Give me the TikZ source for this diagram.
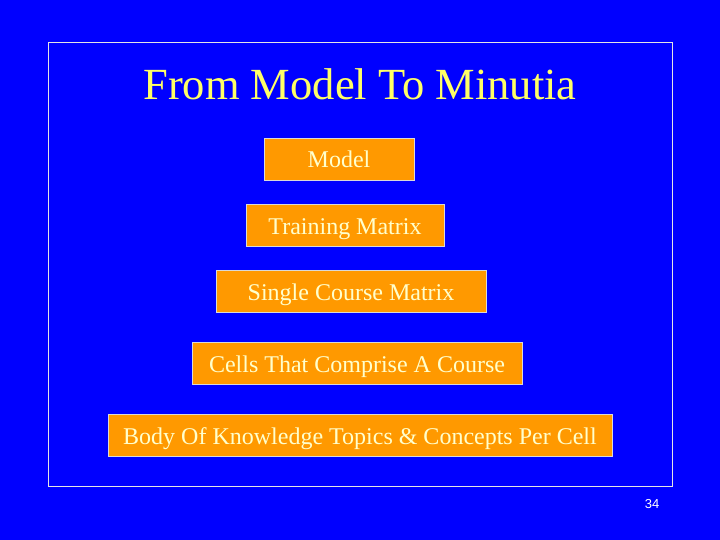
\documentclass[tikz,border=0pt]{standalone}
\usepackage{fontspec}
\setmainfont{Liberation Serif}
\newfontfamily\pagefont{Liberation Sans}
\usetikzlibrary{positioning}
\definecolor{slideblue}{HTML}{0000FF}
\definecolor{boxorange}{HTML}{FF9900}
\definecolor{boxtext}{HTML}{FFFFCC}
\definecolor{titleyellow}{HTML}{FFFF66}
\tikzset{level/.style={draw=white!85!black,line width=0.8pt,fill=boxorange,text=boxtext,font=\fontsize{24}{26}\selectfont,minimum height=42pt,inner sep=0pt,text height=18pt,text depth=0pt}}

\begin{document}
\begin{tikzpicture}
[x=1pt,y=-1pt]
\fill[slideblue] (0,0) rectangle (720,540);
\useasboundingbox (0,0) rectangle (720,540);
\draw[white!90!black,line width=0.8pt] (48,42) rectangle (672,486);
\node (title) at (360,84)[text=titleyellow,font=\fontsize{44.5}{48}\selectfont]{From Model To Minutia};

\node (model) at (339,159)[level,minimum width=150pt]{Model};
\node (training) at (345,225)[level,minimum width=198pt]{Training Matrix};
\node (single) at (351,291)[level,minimum width=270pt]{Single Course Matrix};
\node (cells) at (357,363)[level,minimum width=330pt]{Cells That Comprise A Course};
\node (body) at (360,435)[level,minimum width=504pt]{Body Of Knowledge Topics \& Concepts Per Cell};

\node (page) at (652,504)[text=white,font=\pagefont\fontsize{13}{15}\selectfont]{34};
\end{tikzpicture}
\end{document}
